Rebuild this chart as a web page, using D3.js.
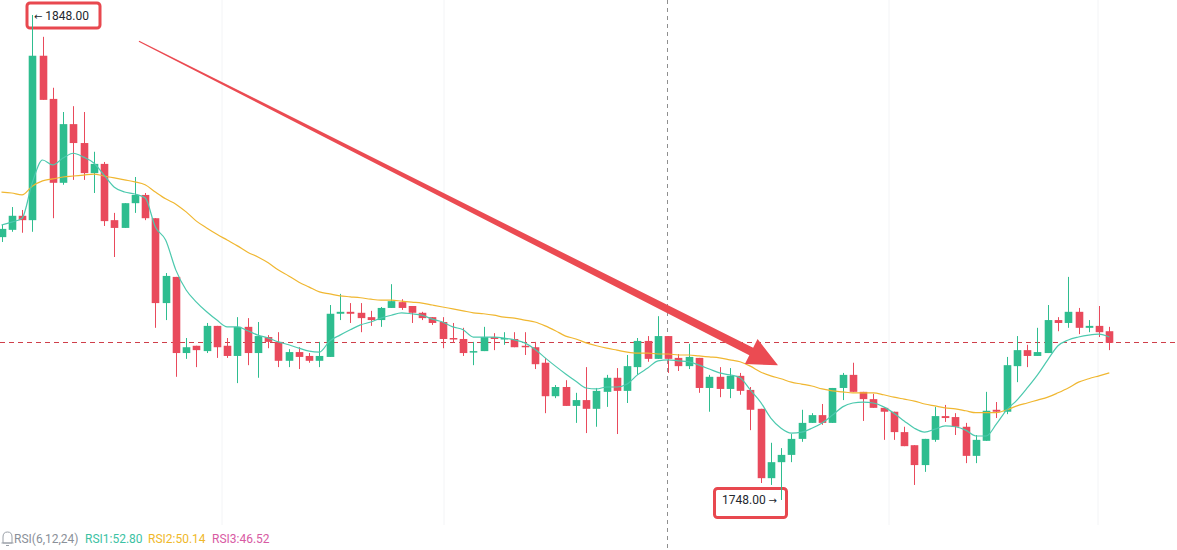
<!DOCTYPE html>
<html>
<head>
<meta charset="utf-8">
<script src="https://cdn.jsdelivr.net/npm/d3@7"></script>
<style>
  html, body { margin: 0; padding: 0; background: #fff; }
  svg { display: block; font-family: Roboto, "Noto Sans", sans-serif; }
</style>
</head>
<body>
<svg id="chart" width="1177" height="550"></svg>
<script>
// OHLC, one entry per candle
const opens = [1802.2,1803.7,1806.6,1805.7,1839.6,1830.7,1813.4,1825.5,1821.6,1815.4,
  1817.3,1805.7,1804.1,1809.2,1810.9,1806.1,1788.6,1794.0,1778.3,1779.8,
  1778.7,1783.9,1779.8,1777.7,1783.7,1778.3,1781.6,1780.6,1776.7,1778.5,
  1777.7,1776.7,1777.5,1786.4,1786.8,1786.6,1785.7,1785.1,1787.6,1788.8,
  1788.0,1786.6,1785.7,1784.7,1781.4,1781.2,1778.5,1778.7,1781.6,1781.2,
  1781.2,1779.8,1779.5,1776.3,1769.4,1771.3,1767.4,1768.6,1766.8,1770.3,
  1773.2,1770.5,1775.4,1780.8,1777.1,1781.8,1777.3,1775.6,1777.3,1771.1,
  1773.4,1770.9,1773.6,1770.7,1766.8,1752.5,1755.8,1757.3,1760.6,1763.9,
  1765.5,1763.9,1771.1,1773.8,1770.3,1768.8,1767.0,1766.2,1762.0,1759.3,
  1755.2,1760.4,1765.3,1765.1,1763.1,1757.1,1760.2,1766.6,1766.2,1775.6,
  1778.9,1777.7,1778.3,1785.1,1784.5,1786.8,1783.5,1783.9,1782.8];
const highs = [1804.7,1808.4,1807.8,1848.0,1843.5,1833.0,1828.0,1829.2,1828.0,1819.8,
  1817.7,1807.2,1809.2,1814.6,1811.3,1806.1,1794.8,1794.0,1781.4,1779.8,
  1784.5,1783.9,1781.4,1785.7,1785.5,1784.7,1782.0,1782.6,1779.1,1779.5,
  1778.3,1780.6,1788.2,1790.5,1788.6,1788.6,1787.0,1787.8,1792.5,1789.4,
  1788.0,1786.8,1785.7,1785.7,1784.5,1783.5,1780.6,1783.7,1782.4,1782.6,
  1782.6,1782.6,1780.6,1777.3,1771.7,1772.7,1770.1,1775.4,1771.1,1773.8,
  1775.2,1777.9,1781.4,1781.8,1785.9,1781.8,1778.1,1780.2,1777.3,1773.8,
  1775.4,1775.2,1774.2,1771.3,1766.8,1759.8,1758.7,1761.6,1766.6,1765.9,
  1767.8,1771.1,1774.2,1776.3,1770.3,1769.9,1767.0,1766.2,1763.1,1759.3,
  1760.6,1767.2,1767.6,1765.9,1763.9,1761.4,1770.3,1768.2,1777.5,1781.8,
  1780.0,1783.5,1788.2,1785.7,1794.0,1787.6,1785.1,1788.0,1783.7];
const lows = [1801.2,1803.3,1803.1,1803.3,1830.5,1806.1,1813.0,1814.0,1814.0,1811.3,
  1804.5,1798.1,1804.1,1807.2,1805.7,1783.5,1785.1,1773.4,1777.1,1775.4,
  1778.3,1777.3,1777.3,1772.1,1775.8,1773.2,1779.3,1775.4,1775.4,1775.0,
  1776.3,1775.4,1777.5,1785.1,1784.5,1782.6,1783.9,1783.7,1787.6,1787.2,
  1784.5,1785.1,1784.1,1779.3,1780.4,1777.7,1775.8,1778.7,1778.9,1780.0,
  1779.5,1777.9,1775.0,1765.9,1769.0,1767.4,1763.9,1761.8,1763.1,1767.2,
  1761.6,1768.0,1773.8,1776.5,1777.1,1774.2,1774.6,1775.0,1770.1,1766.2,
  1769.2,1769.0,1769.7,1762.4,1751.5,1751.1,1748.0,1755.8,1760.0,1763.9,
  1763.5,1763.9,1768.6,1770.3,1764.3,1767.0,1760.4,1760.4,1759.1,1751.1,
  1753.8,1760.0,1764.1,1761.4,1755.6,1755.6,1760.2,1764.9,1765.7,1772.3,
  1775.4,1777.7,1778.3,1782.8,1783.5,1782.2,1782.6,1781.6,1778.9];
const closes = [1803.9,1806.6,1805.7,1839.6,1830.5,1813.4,1825.5,1821.6,1815.4,1817.3,
  1805.5,1804.1,1809.2,1810.9,1806.1,1788.6,1794.2,1778.3,1779.5,1778.9,
  1783.9,1779.5,1777.7,1783.7,1778.3,1781.8,1780.6,1776.7,1778.5,1777.5,
  1776.7,1777.7,1786.4,1786.8,1786.4,1785.5,1785.1,1787.6,1789.0,1787.6,
  1786.6,1785.5,1784.5,1781.2,1781.2,1778.3,1778.7,1781.6,1781.2,1781.4,
  1779.5,1779.5,1776.0,1769.4,1771.3,1767.4,1768.6,1766.8,1770.5,1773.2,
  1770.5,1775.6,1780.8,1777.1,1781.8,1777.1,1775.6,1777.5,1771.1,1773.4,
  1770.9,1773.6,1770.5,1766.6,1752.5,1755.8,1757.3,1760.6,1763.9,1765.5,
  1763.9,1771.1,1773.8,1770.3,1768.8,1767.0,1766.2,1762.0,1759.1,1755.2,
  1760.6,1765.3,1764.9,1763.1,1757.1,1760.4,1766.4,1766.2,1775.8,1778.9,
  1777.7,1778.5,1785.1,1784.5,1786.8,1783.5,1783.9,1782.6,1780.4];

// the two moving-average lines per candle
const maFast = [1804.7,1805.3,1806.1,1813.4,1818.1,1817.1,1818.5,1819.5,1818.7,1817.5,
  1815.0,1812.5,1811.5,1811.1,1810.3,1804.3,1801.6,1795.4,1791.3,1788.8,
  1786.8,1785.1,1783.7,1783.7,1782.9,1782.0,1781.4,1780.6,1780.0,1779.3,
  1778.7,1778.5,1780.8,1782.0,1783.1,1784.1,1784.7,1785.5,1786.1,1786.6,
  1786.4,1786.1,1785.3,1784.7,1783.7,1783.1,1781.6,1781.6,1781.6,1781.4,
  1781.0,1780.4,1779.1,1777.3,1775.6,1774.0,1772.5,1771.1,1770.9,1771.3,
  1771.3,1771.9,1773.8,1775.2,1776.7,1776.9,1776.7,1776.5,1775.8,1775.0,
  1774.2,1773.8,1773.2,1770.7,1768.2,1764.9,1762.8,1761.8,1762.0,1762.8,
  1763.9,1765.5,1767.2,1768.0,1768.2,1768.0,1767.2,1765.9,1764.3,1762.8,
  1762.0,1762.6,1763.3,1763.1,1762.4,1761.2,1761.2,1763.7,1766.6,1768.6,
  1771.1,1773.8,1776.9,1779.8,1781.0,1781.6,1782.0,1782.2,1781.6];
const maSlow = [1811.5,1811.3,1810.9,1812.7,1813.8,1814.2,1814.6,1814.8,1815.0,1815.2,
  1814.8,1814.4,1814.0,1813.6,1813.0,1811.5,1810.1,1809.0,1807.4,1805.5,
  1804.1,1802.8,1801.6,1800.4,1799.1,1798.1,1796.9,1795.4,1794.2,1792.9,
  1791.9,1790.9,1790.5,1790.1,1789.9,1789.7,1789.4,1789.2,1789.2,1789.0,
  1788.8,1788.6,1788.2,1787.8,1787.4,1787.0,1786.6,1786.4,1786.1,1785.7,
  1785.5,1785.1,1784.7,1783.9,1782.9,1781.8,1781.2,1780.4,1779.8,1779.3,
  1778.9,1778.5,1778.3,1778.3,1778.1,1778.1,1777.9,1777.9,1777.7,1777.5,
  1777.3,1776.9,1776.5,1775.6,1774.4,1773.6,1773.0,1772.3,1771.9,1771.5,
  1770.9,1770.5,1770.3,1770.1,1770.1,1770.1,1769.7,1769.2,1768.8,1768.4,
  1767.8,1767.4,1767.0,1766.8,1766.4,1766.0,1766.0,1766.0,1766.6,1767.4,
  1768.0,1768.6,1769.2,1770.1,1771.1,1772.3,1773.0,1773.6,1774.2];

const highLabel = ["←", " 1848.00"];
const lowLabel = ["1748.00 ", "→"];
const rsiNames = ["RSI(6,12,24)", "RSI1:52.80", "RSI2:50.14", "RSI3:46.52"];

const W = 1177, H = 550;
const UP = "#2ebd8f", DOWN = "#e94a5c";

const svg = d3.select("#chart");
const n = closes.length;
const idx = d3.range(n);

const x = d3.scaleLinear().domain([0, n - 1]).range([1.5, 1109.3]);
const y = d3.scaleLinear().domain([1748, 1848]).range([500, 15]);
const bw = 7.6;

// faint grid
const grid = svg.append("g").attr("stroke", "#f3f4f6").attr("stroke-width", 1);
[222, 444, 889, 1098].forEach(gx => {
  grid.append("line").attr("x1", gx).attr("x2", gx).attr("y1", 0).attr("y2", 525);
});

// crosshair (vertical) and last price line
svg.append("line")
  .attr("x1", 667.5).attr("x2", 667.5).attr("y1", 0).attr("y2", H)
  .attr("stroke", "#8f8f8f").attr("stroke-width", 1).attr("stroke-dasharray", "4,4");

const lastY = Math.round(y(closes[n - 1])) - 0.5;
svg.append("line")
  .attr("x1", 0).attr("x2", W).attr("y1", lastY).attr("y2", lastY)
  .attr("stroke", "#cf3f4a").attr("stroke-width", 1).attr("stroke-dasharray", "5,4");

// high / low markers (wicks stay visible through them)
function marker(x0, y0, w, h, parts, tx, ty) {
  const g = svg.append("g");
  g.append("rect").attr("x", x0).attr("y", y0).attr("width", w).attr("height", h)
    .attr("rx", 3).attr("fill", "none").attr("stroke", "#e8484f").attr("stroke-width", 3);
  const t = g.append("text").attr("x", tx).attr("y", ty).attr("font-size", 12)
    .attr("fill", "#23272e");
  parts.forEach(p => {
    const s = t.append("tspan").text(p).attr("xml:space", "preserve");
    if (p === "←" || p === "→") s.attr("font-family", "DejaVu Sans").attr("font-size", 10);
  });
}
marker(27, 3, 73, 25, highLabel, 34, 20);
marker(714.5, 488.5, 72, 29, lowLabel, 722, 504);

// candles
const candles = svg.append("g");
candles.selectAll("line.wick")
  .data(idx).enter().append("line")
  .attr("class", "wick")
  .attr("x1", i => Math.round(x(i)) + 0.5).attr("x2", i => Math.round(x(i)) + 0.5)
  .attr("y1", i => y(highs[i])).attr("y2", i => y(lows[i]))
  .attr("stroke", i => closes[i] >= opens[i] ? UP : DOWN)
  .attr("stroke-width", 1);

candles.selectAll("rect.body")
  .data(idx).enter().append("rect")
  .attr("class", "body")
  .attr("x", i => Math.round(x(i)) + 0.5 - bw / 2)
  .attr("width", bw)
  .attr("y", i => y(Math.max(opens[i], closes[i])))
  .attr("height", i => Math.max(1.5, Math.abs(y(opens[i]) - y(closes[i]))))
  .attr("fill", i => closes[i] >= opens[i] ? UP : DOWN);

// moving averages
const line = arr => d3.line().x((d, i) => x(i)).y(d => y(d)).curve(d3.curveMonotoneX)(arr);
svg.append("path").attr("d", line(maSlow))
  .attr("fill", "none").attr("stroke", "#f0b731").attr("stroke-width", 1.2);
svg.append("path").attr("d", line(maFast))
  .attr("fill", "none").attr("stroke", "#4cc9ae").attr("stroke-width", 1.2);

// hand-drawn trend arrow
const a0 = [x(13.4), y(1842.6)], a1 = [x(75.7), y(1775.8)];
const dx = a1[0] - a0[0], dy = a1[1] - a0[1], len = Math.hypot(dx, dy);
const ux = dx / len, uy = dy / len, nx = -uy, ny = ux;
const headLen = 30, headHalf = 14;
const hb = [a1[0] - ux * headLen, a1[1] - uy * headLen];
const pt = (p, w) => [p[0] + nx * w, p[1] + ny * w];
const arrowPts = [
  pt(a0, 0.6), pt(hb, 4.2), pt(hb, headHalf), a1, pt(hb, -headHalf), pt(hb, -4.2), pt(a0, -0.6)
];
svg.append("path")
  .attr("d", "M" + arrowPts.map(p => p.join(",")).join("L") + "Z")
  .attr("fill", "#eb4b52");

// RSI legend
const leg = svg.append("g").attr("font-size", 12);
// bell icon
const bell = leg.append("g").attr("fill", "none").attr("stroke", "#9aa0a8").attr("stroke-width", 1);
bell.append("path").attr("d", "M3,543 L3,537 Q3,532 7.5,532 Q12,532 12,537 L12,543 Z");
bell.append("line").attr("x1", 1.5).attr("x2", 13.5).attr("y1", 543).attr("y2", 543);
bell.append("line").attr("x1", 6).attr("x2", 9).attr("y1", 545.5).attr("y2", 545.5);
const legColors = ["#8a9099", "#3cc2a3", "#efb829", "#d85aa3"];
const legX = [14, 85, 148, 212];
rsiNames.forEach((t, i) => {
  leg.append("text").attr("x", legX[i]).attr("y", 543).attr("fill", legColors[i]).text(t);
});
</script>
</body>
</html>
